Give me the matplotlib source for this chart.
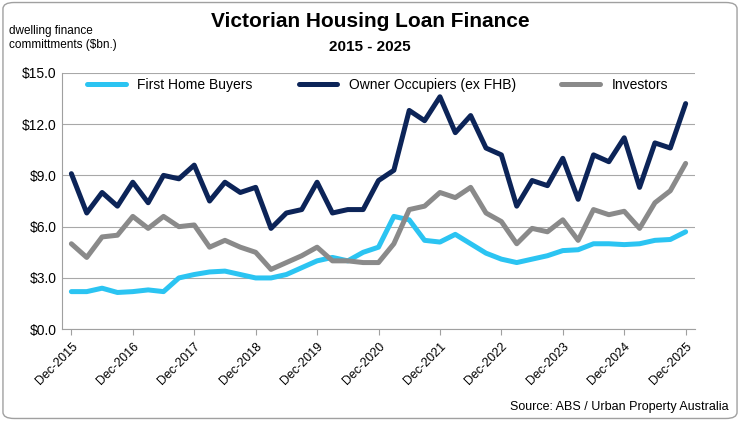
import numpy as np
import matplotlib.pyplot as plt
from matplotlib.patches import FancyBboxPatch

# Quarterly data, Dec-2015 .. Dec-2025
years = list(range(2015, 2026))
tick_labels = ["Dec-%d" % y for y in years]

fhb = [2.2, 2.2, 2.4, 2.15, 2.2, 2.3, 2.2, 3.0, 3.2, 3.35, 3.4, 3.2, 3.0, 3.0,
       3.2, 3.6, 4.0, 4.2, 4.0, 4.5, 4.8, 6.6, 6.4, 5.2, 5.1, 5.55, 5.0, 4.45,
       4.1, 3.9, 4.1, 4.3, 4.6, 4.65, 5.0, 5.0, 4.95, 5.0, 5.2, 5.25, 5.7]
owner = [9.1, 6.8, 8.0, 7.2, 8.6, 7.4, 9.0, 8.8, 9.6, 7.5, 8.6, 8.0, 8.3, 5.9,
         6.8, 7.0, 8.6, 6.8, 7.0, 7.0, 8.7, 9.3, 12.8, 12.2, 13.6, 11.5, 12.5,
         10.6, 10.2, 7.2, 8.7, 8.4, 10.0, 7.6, 10.2, 9.8, 11.2, 8.3, 10.9, 10.6,
         13.2]
investors = [5.0, 4.2, 5.4, 5.5, 6.6, 5.9, 6.6, 6.0, 6.1, 4.8, 5.2, 4.8, 4.5,
             3.5, 3.9, 4.3, 4.8, 4.0, 4.0, 3.9, 3.9, 5.0, 7.0, 7.2, 8.0, 7.7,
             8.3, 6.8, 6.3, 5.0, 5.9, 5.7, 6.4, 5.2, 7.0, 6.7, 6.9, 5.9, 7.4,
             8.1, 9.7]

C_FHB = "#2bc4f2"
C_OWN = "#0c2458"
C_INV = "#8a8a8a"

plt.rcParams['font.family'] = ['Liberation Sans', 'DejaVu Sans']

fig = plt.figure(figsize=(7.40, 4.21), dpi=100)
fig.patches.append(FancyBboxPatch((0.004, 0.006), 0.992, 0.988,
                                  boxstyle="round,pad=0,rounding_size=0.015",
                                  transform=fig.transFigure, fill=False,
                                  edgecolor="#a0a0a0", linewidth=1))

ax = fig.add_axes([0.084, 0.218, 0.855, 0.609])
x = np.arange(len(fhb))
kw = dict(linewidth=3.6, solid_joinstyle='round', solid_capstyle='round')
ax.plot(x, fhb, color=C_FHB, label="First Home Buyers", **kw)
ax.plot(x, owner, color=C_OWN, label="Owner Occupiers (ex FHB)", **kw)
ax.plot(x, investors, color=C_INV, label="Investors", **kw)

ax.set_ylim(0, 15)
ax.set_yticks(np.arange(0, 15.1, 3))
ax.set_yticklabels(["$%.1f" % v for v in np.arange(0, 15.1, 3)], fontsize=10)
ax.set_xlim(-0.6, 40.6)
ax.set_xticks(np.arange(0, 41, 4))
ax.set_xticklabels(tick_labels, rotation=45, ha='right', rotation_mode='anchor',
                   fontsize=9)
ax.yaxis.grid(True, color="#a8a8a8", linewidth=0.8)
ax.set_axisbelow(True)
for s in ['top', 'right']:
    ax.spines[s].set_visible(False)
for s in ['left', 'bottom']:
    ax.spines[s].set_color("#a0a0a0")
ax.tick_params(axis='both', length=0, pad=4)
ax.tick_params(axis='x', length=4, color="#a0a0a0", direction='out')

ax.legend(loc='upper left', bbox_to_anchor=(0.02, 1.03), ncol=3, frameon=False,
          fontsize=10, handlelength=2.8, columnspacing=3.3)

fig.text(0.5, 0.935, "Victorian Housing Loan Finance", ha='center',
         fontsize=15, fontweight='bold')
fig.text(0.5, 0.878, "2015 - 2025", ha='center', fontsize=11,
         fontweight='bold')
fig.text(0.012, 0.885, "dwelling finance\ncommittments ($bn.)", ha='left',
         fontsize=8.5, linespacing=1.3)
fig.text(0.985, 0.025, "Source: ABS / Urban Property Australia", ha='right',
         fontsize=9)

fig.savefig("out.png", dpi=100)
